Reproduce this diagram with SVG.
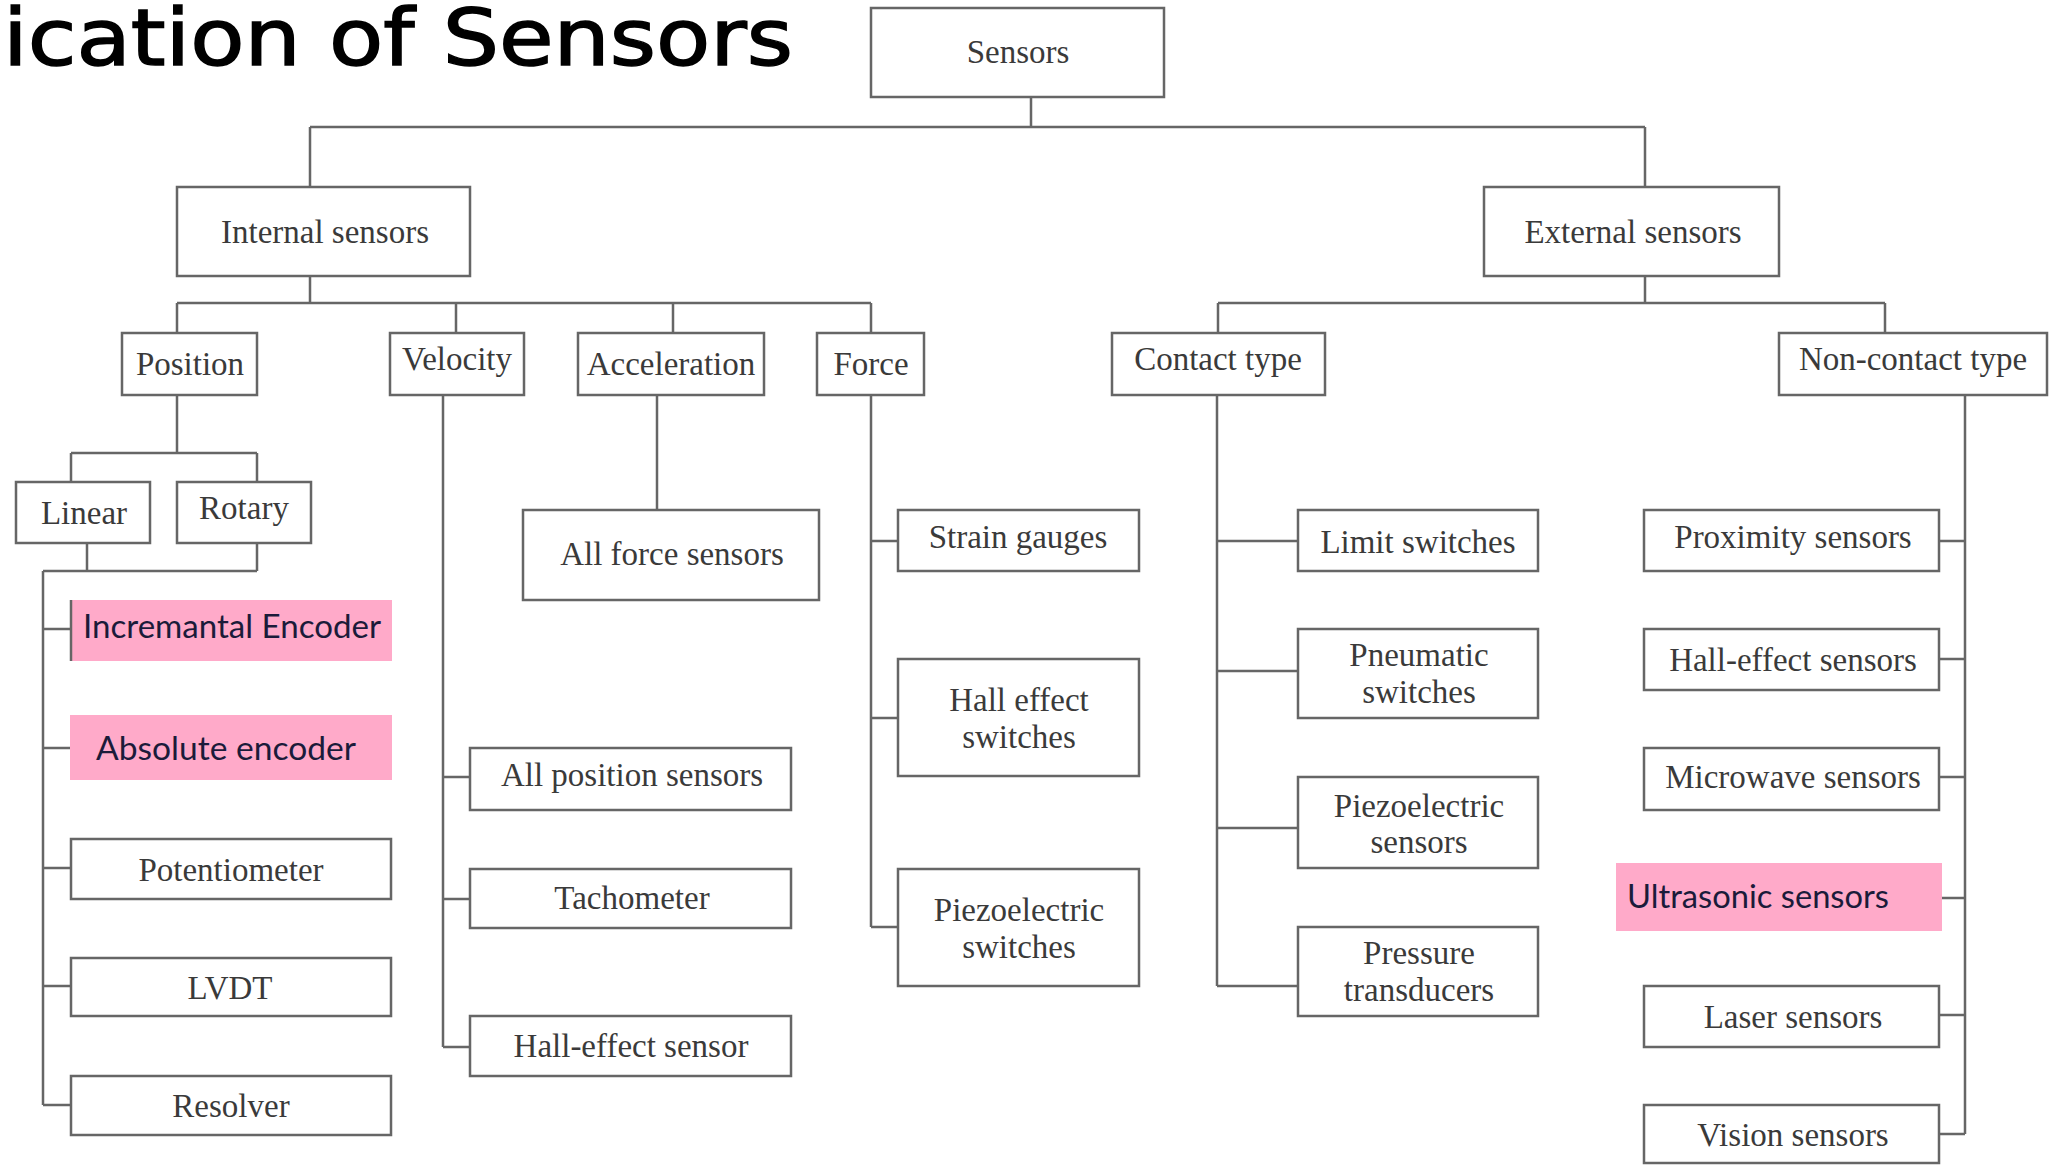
<svg xmlns="http://www.w3.org/2000/svg" width="2051" height="1165" viewBox="0 0 2051 1165">
<style>
.box{fill:#fff;stroke:#666;stroke-width:2.5}
.pink{fill:#FFAAC9;stroke:none}
.lbl{font-family:"Liberation Serif","Times New Roman",serif;font-size:33px;fill:#3a3a3a;text-anchor:middle}
.ptxt{font-family:Lato,"Open Sans",sans-serif;font-size:32px;fill:#1b1b3a}
.conn{stroke:#666;stroke-width:2.5;fill:none}
.title{font-family:"DejaVu Sans",sans-serif;font-size:78px;fill:#000;stroke:#000;stroke-width:1.5}
</style>
<rect width="2051" height="1165" fill="#fff"/>
<text class="title" x="3" y="65" textLength="790" lengthAdjust="spacingAndGlyphs">ication of Sensors</text>

<g id="connectors">
<path class="conn" d="M1031 97V127M310 127H1645M310 127V187M1645 127V187"/>
<path class="conn" d="M310 276V303M177 303H871M177 303V333M456 303V333M673 303V333M871 303V333"/>
<path class="conn" d="M1645 276V303M1218 303H1885M1218 303V333M1885 303V333"/>
<path class="conn" d="M177 395V453M71 453H257M71 453V482M257 453V482"/>
<path class="conn" d="M87 543V571M257 543V571M43 571H257M43 571V1105M43 629H71M43 748H70M43 868H71M43 986H71M43 1105H71"/>
<path class="conn" d="M443 395V1047M443 777H470M443 899H470M443 1047H470"/>
<path class="conn" d="M657 395V510"/>
<path class="conn" d="M871 395V927M871 541H898M871 718H898M871 927H898"/>
<path class="conn" d="M1217 395V986M1217 541H1298M1217 671H1298M1217 828H1298M1217 986H1298"/>
<path class="conn" d="M1965 395V1134M1939 541H1965M1939 659H1965M1939 777H1965M1942 898H1965M1939 1015H1965M1939 1134H1965"/>
</g>

<g id="sensors"><rect class="box" x="871" y="8" width="293" height="89"/><text class="lbl" x="1018" y="63">Sensors</text></g>
<g id="internal"><rect class="box" x="177" y="187" width="293" height="89"/><text class="lbl" x="325" y="243">Internal sensors</text></g>
<g id="external"><rect class="box" x="1484" y="187" width="295" height="89"/><text class="lbl" x="1633" y="243">External sensors</text></g>
<g id="position"><rect class="box" x="122" y="333" width="135" height="62"/><text class="lbl" x="190" y="375">Position</text></g>
<g id="velocity"><rect class="box" x="390" y="333" width="134" height="62"/><text class="lbl" x="457" y="370">Velocity</text></g>
<g id="acceleration"><rect class="box" x="578" y="333" width="186" height="62"/><text class="lbl" x="671" y="375">Acceleration</text></g>
<g id="force"><rect class="box" x="817" y="333" width="107" height="62"/><text class="lbl" x="871" y="375">Force</text></g>
<g id="contact"><rect class="box" x="1112" y="333" width="213" height="62"/><text class="lbl" x="1218" y="370">Contact type</text></g>
<g id="noncontact"><rect class="box" x="1779" y="333" width="268" height="62"/><text class="lbl" x="1913" y="370">Non-contact type</text></g>
<g id="linear"><rect class="box" x="16" y="482" width="134" height="61"/><text class="lbl" x="84" y="524">Linear</text></g>
<g id="rotary"><rect class="box" x="177" y="482" width="134" height="61"/><text class="lbl" x="244" y="519">Rotary</text></g>

<g id="incremental"><rect class="pink" x="71" y="600" width="321" height="61"/><path class="conn" d="M71 600V661"/><text class="ptxt" x="83" y="638" textLength="298" lengthAdjust="spacingAndGlyphs">Incremantal Encoder</text></g>
<g id="absolute"><rect class="pink" x="70" y="715" width="322" height="65"/><text class="ptxt" x="96" y="760" textLength="260" lengthAdjust="spacingAndGlyphs">Absolute encoder</text></g>
<g id="potentiometer"><rect class="box" x="71" y="839" width="320" height="60"/><text class="lbl" x="231" y="881">Potentiometer</text></g>
<g id="lvdt"><rect class="box" x="71" y="958" width="320" height="58"/><text class="lbl" x="230" y="999">LVDT</text></g>
<g id="resolver"><rect class="box" x="71" y="1076" width="320" height="59"/><text class="lbl" x="231" y="1117">Resolver</text></g>

<g id="allforce"><rect class="box" x="523" y="510" width="296" height="90"/><text class="lbl" x="672" y="565">All force sensors</text></g>
<g id="allposition"><rect class="box" x="470" y="748" width="321" height="62"/><text class="lbl" x="632" y="786">All position sensors</text></g>
<g id="tachometer"><rect class="box" x="470" y="869" width="321" height="59"/><text class="lbl" x="632" y="909">Tachometer</text></g>
<g id="halleffectsensor"><rect class="box" x="470" y="1016" width="321" height="60"/><text class="lbl" x="631" y="1057">Hall-effect sensor</text></g>

<g id="strain"><rect class="box" x="898" y="510" width="241" height="61"/><text class="lbl" x="1018" y="548">Strain gauges</text></g>
<g id="hallswitch"><rect class="box" x="898" y="659" width="241" height="117"/><text class="lbl" x="1019" y="711">Hall effect</text><text class="lbl" x="1019" y="748">switches</text></g>
<g id="piezoswitch"><rect class="box" x="898" y="869" width="241" height="117"/><text class="lbl" x="1019" y="921">Piezoelectric</text><text class="lbl" x="1019" y="958">switches</text></g>

<g id="limit"><rect class="box" x="1298" y="510" width="240" height="61"/><text class="lbl" x="1418" y="553">Limit switches</text></g>
<g id="pneumatic"><rect class="box" x="1298" y="629" width="240" height="89"/><text class="lbl" x="1419" y="666">Pneumatic</text><text class="lbl" x="1419" y="703">switches</text></g>
<g id="piezosensor"><rect class="box" x="1298" y="777" width="240" height="91"/><text class="lbl" x="1419" y="817">Piezoelectric</text><text class="lbl" x="1419" y="853">sensors</text></g>
<g id="pressure"><rect class="box" x="1298" y="927" width="240" height="89"/><text class="lbl" x="1419" y="964">Pressure</text><text class="lbl" x="1419" y="1001">transducers</text></g>

<g id="proximity"><rect class="box" x="1644" y="510" width="295" height="61"/><text class="lbl" x="1793" y="548">Proximity sensors</text></g>
<g id="halleffectsensors"><rect class="box" x="1644" y="629" width="295" height="61"/><text class="lbl" x="1793" y="671">Hall-effect sensors</text></g>
<g id="microwave"><rect class="box" x="1644" y="748" width="295" height="62"/><text class="lbl" x="1793" y="788">Microwave sensors</text></g>
<g id="ultrasonic"><rect class="pink" x="1616" y="863" width="326" height="68"/><text class="ptxt" x="1627" y="908" textLength="262" lengthAdjust="spacingAndGlyphs">Ultrasonic sensors</text></g>
<g id="laser"><rect class="box" x="1644" y="986" width="295" height="61"/><text class="lbl" x="1793" y="1028">Laser sensors</text></g>
<g id="vision"><rect class="box" x="1644" y="1105" width="295" height="58"/><text class="lbl" x="1793" y="1146">Vision sensors</text></g>
</svg>
